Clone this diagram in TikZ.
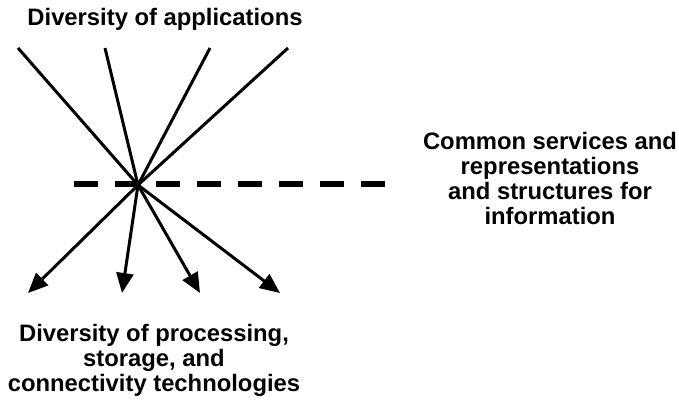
\documentclass[tikz,border=0pt]{standalone}
\usepackage{fontspec}
\setmainfont{Liberation Sans}
\usepackage{tikz}
\usetikzlibrary{arrows.meta}

\tikzset{
	spoke/.style={line width=3pt},
	outspoke/.style={line width=3pt, -{Triangle[length=20pt,width=17pt]}},
	divider/.style={line width=6pt, dash pattern=on 24pt off 17pt},
	txt/.style={font=\fontsize{23.8}{25}\selectfont\bfseries, align=center}
}

\begin{document}
\begin{tikzpicture}[x=1pt,y=-1pt]

\useasboundingbox (0,0) rectangle (679,402);

\coordinate (hub) at (138,185);

% applications on top
\coordinate (a1) at (18,48);
\coordinate (a2) at (105,48);
\coordinate (a3) at (210,48);
\coordinate (a4) at (288,48);

% technologies below
\coordinate (t1) at (28,293);
\coordinate (t2) at (122,293);
\coordinate (t3) at (200,293);
\coordinate (t4) at (280,293);

\coordinate (dl) at (74,184);
\coordinate (dr) at (386,184);

\draw[divider] (dl)--(dr);

\foreach \i in {1,...,4}{
	\draw[spoke] (a\i)--(hub);
	\draw[outspoke] (hub)--(t\i);
}

\node[txt] (apps) at (165,19) {Diversity of applications};
\node[txt] (tech) at (154,360) {Diversity of processing,\\ storage, and\\ connectivity technologies};
\node[txt] (serv) at (550,178) {Common services and\\ representations\\ and structures for\\ information};

\end{tikzpicture}
\end{document}
